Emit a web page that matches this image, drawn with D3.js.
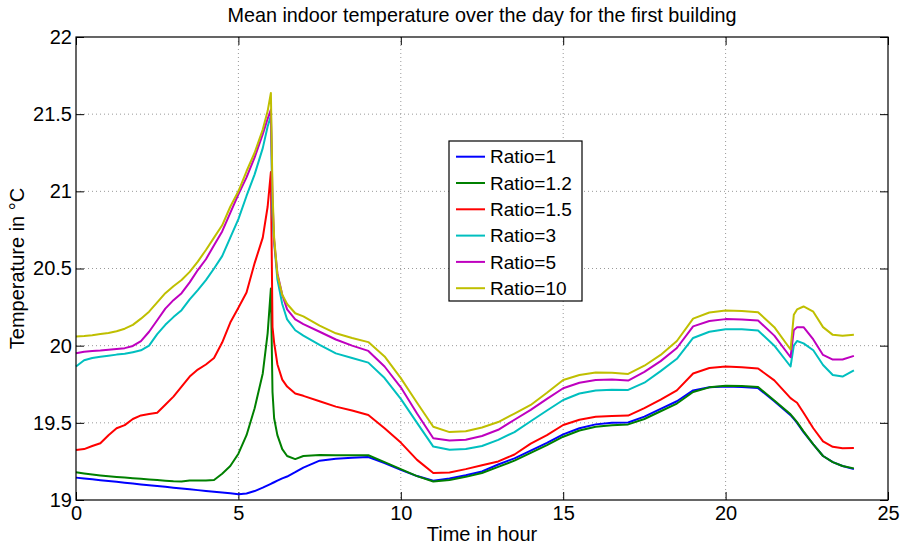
<!DOCTYPE html>
<html>
<head>
<meta charset="utf-8">
<script src="https://cdn.jsdelivr.net/npm/d3@7"></script>
<style>
	body { margin: 0; background: #fff; }
	text { font-family: 'Liberation Sans', Arial, Helvetica, sans-serif; fill: #000; }
	.grid line { stroke: #999; stroke-dasharray: 1,3; }
</style>
</head>
<body>
<div id="chart"></div>
<script>
var hours = [0, 0.25, 0.5, 0.75, 1, 1.25, 1.5, 1.75, 2, 2.25, 2.5, 2.75, 3, 3.25, 3.5, 3.75, 4, 4.25, 4.5, 4.75,
	5, 5.25, 5.5, 5.75, 5.9, 6, 6.05, 6.1, 6.2, 6.35, 6.5, 6.75, 7, 7.5, 8, 8.5, 9, 9.5, 10, 10.5, 11, 11.5,
	12, 12.5, 13, 13.5, 14, 14.5, 15, 15.5, 16, 16.5, 17, 17.5, 18, 18.5, 19, 19.5, 20, 20.5, 21, 21.5,
	22, 22.1, 22.2, 22.4, 22.7, 23, 23.3, 23.6, 23.95]

var ratio1 = [19.145, 19.139, 19.134, 19.128, 19.123, 19.118, 19.112, 19.107, 19.101, 19.096, 19.091, 19.086, 19.080, 19.075, 19.070, 19.064, 19.059, 19.053, 19.048, 19.043,
	19.037, 19.042, 19.058, 19.08, 19.095, 19.105, 19.11, 19.115, 19.125, 19.14, 19.152, 19.18, 19.21, 19.255, 19.268, 19.273, 19.278, 19.24, 19.195, 19.155, 19.125, 19.14,
	19.16, 19.185, 19.23, 19.27, 19.32, 19.37, 19.425, 19.465, 19.49, 19.5, 19.502, 19.54, 19.59, 19.64, 19.71, 19.73, 19.735, 19.732, 19.725, 19.64,
	19.55, 19.525, 19.5, 19.44, 19.36, 19.285, 19.245, 19.22, 19.2]

var ratio12 = [19.18, 19.172, 19.165, 19.159, 19.154, 19.149, 19.145, 19.141, 19.137, 19.133, 19.129, 19.125, 19.121, 19.12, 19.127, 19.127, 19.127, 19.13, 19.17, 19.22,
	19.3, 19.42, 19.595, 19.82, 20.08, 20.37, 19.7, 19.53, 19.42, 19.33, 19.285, 19.265, 19.285, 19.292, 19.29, 19.29, 19.29, 19.245, 19.2, 19.155, 19.12, 19.13,
	19.15, 19.175, 19.215, 19.255, 19.305, 19.355, 19.41, 19.45, 19.475, 19.485, 19.49, 19.525, 19.575, 19.625, 19.7, 19.73, 19.74, 19.738, 19.732, 19.645,
	19.555, 19.53, 19.505, 19.445, 19.36, 19.285, 19.245, 19.22, 19.205]

var ratio15 = [19.324, 19.33, 19.35, 19.368, 19.42, 19.465, 19.485, 19.525, 19.548, 19.557, 19.565, 19.617, 19.67, 19.735, 19.8, 19.845, 19.878, 19.92, 20.02, 20.15,
	20.245, 20.345, 20.535, 20.7, 20.9, 21.125, 20.12, 20.02, 19.88, 19.78, 19.735, 19.69, 19.675, 19.64, 19.605, 19.58, 19.551, 19.465, 19.372, 19.26, 19.175, 19.178,
	19.2, 19.225, 19.25, 19.295, 19.365, 19.42, 19.486, 19.52, 19.54, 19.545, 19.547, 19.595, 19.65, 19.71, 19.82, 19.855, 19.865, 19.86, 19.852, 19.775,
	19.66, 19.645, 19.63, 19.565, 19.465, 19.38, 19.345, 19.335, 19.337]

var ratio3 = [19.865, 19.905, 19.92, 19.928, 19.935, 19.942, 19.947, 19.958, 19.97, 20.0, 20.075, 20.135, 20.185, 20.23, 20.3, 20.36, 20.425, 20.5, 20.58, 20.7,
	20.82, 20.97, 21.11, 21.28, 21.42, 21.49, 20.85, 20.67, 20.43, 20.27, 20.17, 20.1, 20.065, 20.005, 19.95, 19.92, 19.89, 19.79, 19.655, 19.5, 19.346, 19.325,
	19.33, 19.35, 19.39, 19.44, 19.51, 19.58, 19.648, 19.69, 19.71, 19.715, 19.713, 19.76, 19.835, 19.915, 20.05, 20.09, 20.107, 20.106, 20.098, 20.0,
	19.865, 20.0, 20.03, 20.015, 19.97, 19.875, 19.81, 19.8, 19.84]

var ratio5 = [19.951, 19.96, 19.965, 19.968, 19.973, 19.978, 19.984, 19.998, 20.03, 20.09, 20.165, 20.24, 20.295, 20.34, 20.41, 20.49, 20.56, 20.65, 20.74, 20.86,
	20.98, 21.09, 21.22, 21.37, 21.47, 21.53, 20.95, 20.68, 20.47, 20.33, 20.235, 20.17, 20.14, 20.09, 20.04, 20.0, 19.966, 19.865, 19.73, 19.56, 19.4, 19.386,
	19.39, 19.415, 19.455, 19.52, 19.584, 19.655, 19.724, 19.76, 19.778, 19.78, 19.774, 19.83, 19.9, 19.985, 20.125, 20.16, 20.172, 20.17, 20.163, 20.065,
	19.925, 20.1, 20.12, 20.12, 20.04, 19.94, 19.91, 19.91, 19.934]

var ratio10 = [20.06, 20.063, 20.068, 20.075, 20.082, 20.093, 20.11, 20.135, 20.175, 20.22, 20.28, 20.34, 20.385, 20.425, 20.478, 20.545, 20.62, 20.7, 20.78, 20.9,
	21.0, 21.13, 21.25, 21.4, 21.52, 21.637, 21.0, 20.7, 20.46, 20.33, 20.27, 20.21, 20.19, 20.13, 20.08, 20.05, 20.023, 19.93, 19.79, 19.63, 19.475, 19.44,
	19.445, 19.47, 19.505, 19.56, 19.616, 19.695, 19.778, 19.81, 19.826, 19.825, 19.817, 19.87, 19.94, 20.03, 20.175, 20.215, 20.228, 20.225, 20.217, 20.12,
	19.975, 20.2, 20.235, 20.254, 20.22, 20.12, 20.07, 20.065, 20.07]

var seriesNames = ['Ratio=1', 'Ratio=1.2', 'Ratio=1.5', 'Ratio=3', 'Ratio=5', 'Ratio=10']
var seriesColors = ['#0000ff', '#008000', '#ff0000', '#00bfbf', '#bf00bf', '#bfbf00']
var xTicks = [0, 5, 10, 15, 20, 25]
var yTicks = [19, 19.5, 20, 20.5, 21, 21.5, 22]

var allSeries = [ratio1, ratio12, ratio15, ratio3, ratio5, ratio10]

makeChart('#chart')

function makeChart(div) {
	var width = 904
	var height = 547
	var margin = {
		'top' : 37,
		'bottom' : 47,
		'left' : 76,
		'right' : 16,
	}
	var chartWidth = width - margin.left - margin.right
	var chartHeight = height - margin.top - margin.bottom

	var svg = d3.select(div).append('svg')
		.attr('width', width)
		.attr('height', height)

	var chartInner = svg.append('g')
		.attr('transform', 'translate(' + margin.left + ',' + margin.top + ')')

	var xScale = d3.scaleLinear()
		.domain([0, 25])
		.range([0, chartWidth])

	var yScale = d3.scaleLinear()
		.domain([19, 22])
		.range([chartHeight, 0])

	// dotted grid
	var grid = chartInner.append('g').attr('class', 'grid')
	grid.selectAll('.gx')
		.data(xTicks.slice(1, -1))
		.enter().append('line')
		.attr('x1', function(d) { return xScale(d) })
		.attr('x2', function(d) { return xScale(d) })
		.attr('y1', 0)
		.attr('y2', chartHeight)
	grid.selectAll('.gy')
		.data(yTicks.slice(1, -1))
		.enter().append('line')
		.attr('y1', function(d) { return yScale(d) })
		.attr('y2', function(d) { return yScale(d) })
		.attr('x1', 0)
		.attr('x2', chartWidth)

	// axes with inward ticks
	var tickLen = 8
	var fmt = d3.format('~g')
	var axisStyle = function(g) {
		g.select('.domain').remove()
		g.selectAll('line').attr('stroke', '#000')
		g.selectAll('text')
			.style('font-size', '20px')
			.attr('fill', '#000')
	}

	chartInner.append('g')
		.attr('transform', 'translate(0,' + chartHeight + ')')
		.call(d3.axisBottom(xScale).tickValues(xTicks).tickSize(-tickLen).tickPadding(6).tickFormat(fmt))
		.call(axisStyle)

	chartInner.append('g')
		.call(d3.axisTop(xScale).tickValues(xTicks).tickSize(-tickLen).tickFormat(''))
		.call(axisStyle)

	chartInner.append('g')
		.call(d3.axisLeft(yScale).tickValues(yTicks).tickSize(-tickLen).tickPadding(4).tickFormat(fmt))
		.call(axisStyle)

	chartInner.append('g')
		.attr('transform', 'translate(' + chartWidth + ',0)')
		.call(d3.axisRight(yScale).tickValues(yTicks).tickSize(-tickLen).tickFormat(''))
		.call(axisStyle)

	// lines
	var line = d3.line()
		.x(function(d, i) { return xScale(hours[i]) })
		.y(function(d) { return yScale(d) })

	chartInner.selectAll('.series')
		.data(allSeries)
		.enter().append('path')
		.attr('class', 'series')
		.attr('d', line)
		.attr('fill', 'none')
		.attr('stroke', function(d, i) { return seriesColors[i] })
		.attr('stroke-width', 2)
		.attr('stroke-linejoin', 'round')

	// frame
	chartInner.append('rect')
		.attr('width', chartWidth)
		.attr('height', chartHeight)
		.attr('fill', 'none')
		.attr('stroke', '#000')
		.attr('stroke-width', 1.2)

	// legend
	var legend = svg.append('g')
		.attr('transform', 'translate(449,141)')
	legend.append('rect')
		.attr('width', 133)
		.attr('height', 160)
		.attr('fill', '#fff')
		.attr('stroke', '#000')
		.attr('stroke-width', 1.2)
	var items = legend.selectAll('.item')
		.data(seriesNames)
		.enter().append('g')
		.attr('transform', function(d, i) { return 'translate(0,' + (15.7 + i * 26.3) + ')' })
	items.append('line')
		.attr('x1', 7)
		.attr('x2', 36)
		.attr('stroke', function(d, i) { return seriesColors[i] })
		.attr('stroke-width', 2)
	items.append('text')
		.attr('x', 41)
		.attr('dy', '0.35em')
		.style('font-size', '19px')
		.text(function(d) { return d })

	// title and labels
	svg.append('text')
		.attr('x', margin.left + chartWidth / 2)
		.attr('y', 22)
		.style('text-anchor', 'middle')
		.style('font-size', '19.8px')
		.text('Mean indoor temperature over the day for the first building')

	svg.append('text')
		.attr('x', margin.left + chartWidth / 2)
		.attr('y', 541)
		.style('text-anchor', 'middle')
		.style('font-size', '20px')
		.text('Time in hour')

	svg.append('text')
		.attr('transform', 'translate(24,' + (margin.top + chartHeight / 2) + ') rotate(-90)')
		.style('text-anchor', 'middle')
		.style('font-size', '20px')
		.text('Temperature in °C')
}
</script>
</body>
</html>
